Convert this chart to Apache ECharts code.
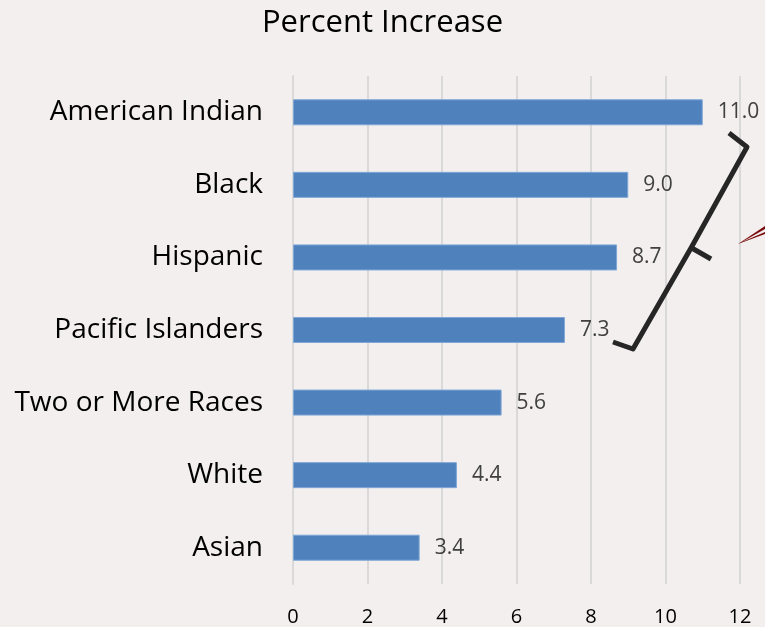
<!DOCTYPE html>
<html><head><meta charset="utf-8">
<script src="https://cdn.jsdelivr.net/npm/echarts@6/dist/echarts.min.js"></script>
<style>html,body{margin:0;padding:0;background:#f2efee}#c{width:765px;height:627px}</style>
</head><body><div id="c"></div>
<script>
const categories = ["American Indian","Black","Hispanic","Pacific Islanders","Two or More Races","White","Asian"];
const values = [11.0, 9.0, 8.7, 7.3, 5.6, 4.4, 3.4];
const xTicks = [0,2,4,6,8,10,12];
const FONT = "'Open Sans', Lato, sans-serif";
const chart = echarts.init(document.getElementById('c'));
chart.setOption({
  backgroundColor: '#f2efee',
  animation: false,
  title: {text: 'Percent Increase', left: 'center', top: 3,
    textStyle: {fontFamily: FONT, fontSize: 31, fontWeight: 'normal', color: '#000'}},
  grid: {left: 293, right: 25, top: 76, bottom: 42, containLabel: false},
  xAxis: {type: 'value', min: xTicks[0], max: xTicks[xTicks.length-1], interval: 2,
    axisLine: {show: false}, axisTick: {show: false},
    splitLine: {show: true, lineStyle: {color: '#d9d9d9', width: 2}},
    axisLabel: {fontFamily: FONT, fontSize: 20, color: '#000', margin: 23}},
  yAxis: {type: 'category', data: categories, inverse: true,
    axisLine: {show: true, lineStyle: {color: '#d9d9d9', width: 2}}, axisTick: {show: false},
    axisLabel: {fontFamily: FONT, fontSize: 28, color: '#000', margin: 30}},
  series: [{type: 'bar', data: values, barWidth: 26,
    itemStyle: {color: '#4f81bd', borderColor: '#7ea6d6', borderWidth: 1},
    label: {show: true, position: 'right', distance: 15, fontFamily: FONT, fontSize: 21, color: '#404040',
      formatter: p => p.value.toFixed(1)}}],
  graphic: [
    {type: 'polyline', shape: {points: [[729,133],[747,147],[691,248],[633,349],[613,342]]},
     style: {stroke: '#262626', lineWidth: 5, fill: null, lineJoin: 'round'}, z: 100},
    {type: 'line', shape: {x1: 690, y1: 247, x2: 711, y2: 259},
     style: {stroke: '#262626', lineWidth: 5}, z: 100},
    {type: 'polygon', shape: {points: [[738,244],[765,226],[765,229],[742,242],[765,232],[765,234]]},
     style: {fill: '#7b0c0c'}, z: 100}
  ]
});
</script></body></html>
